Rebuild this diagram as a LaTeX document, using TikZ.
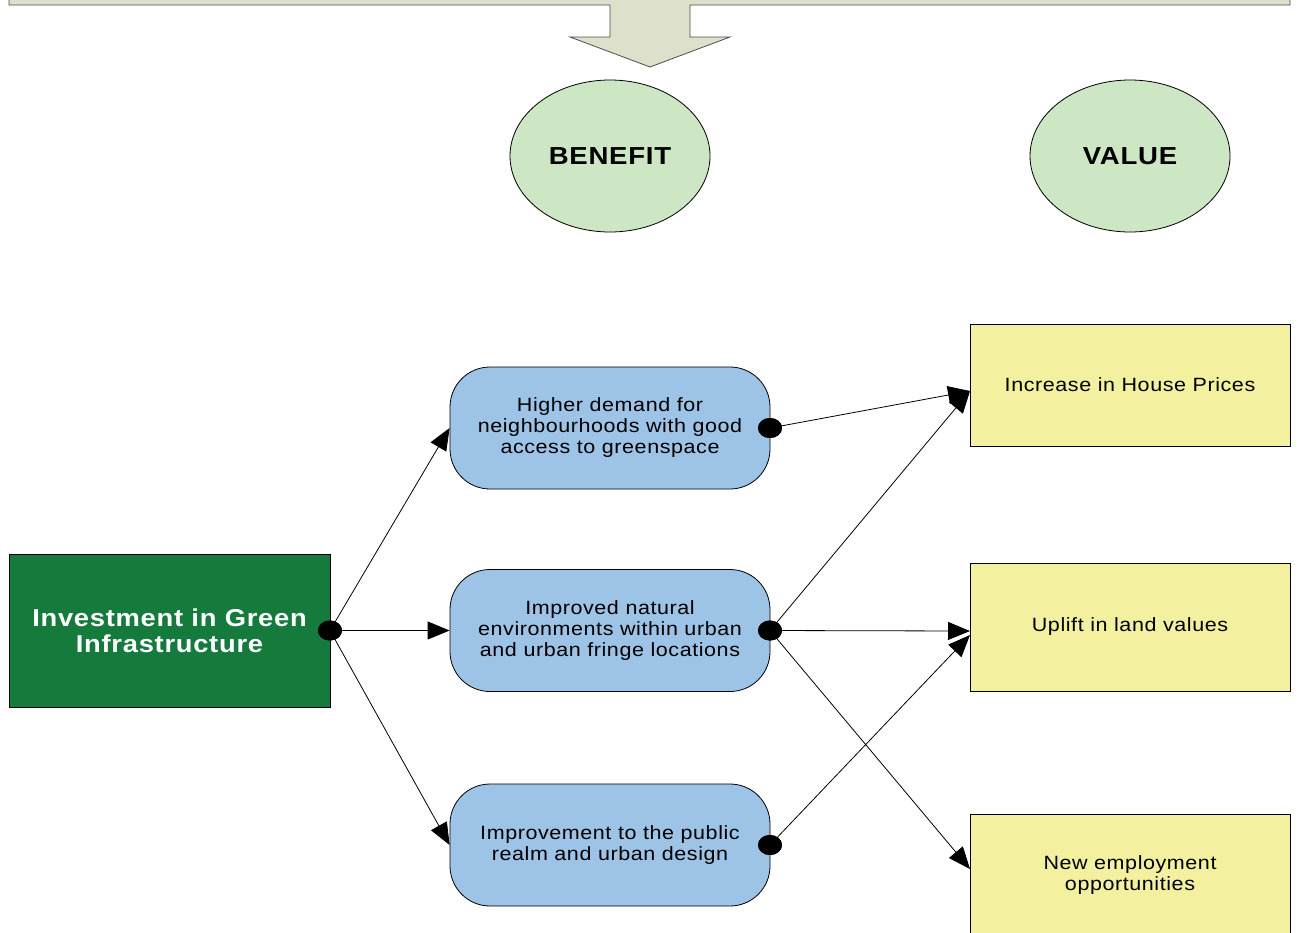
\documentclass[tikz,border=0pt]{standalone}
\usepackage{fontspec}
\setmainfont{Liberation Sans}
\newfontfamily\spaced[FakeStretch=1.12,LetterSpace=3]{Liberation Sans}
\usetikzlibrary{arrows.meta,shapes.geometric}
\definecolor{bannerfill}{HTML}{DDE1CC}
\definecolor{ovalfill}{HTML}{CDE6C4}
\definecolor{greenbox}{HTML}{147B3D}
\definecolor{bluebox}{HTML}{9DC3E6}
\definecolor{yellowbox}{HTML}{F3F1A0}
\tikzset{
  oval/.style={ellipse, draw=black, fill=ovalfill, minimum width=100pt, minimum height=76pt,
    font=\fontsize{12.3}{14}\selectfont\bfseries\spaced},
  sourcebox/.style={rectangle, draw=black, fill=greenbox, minimum width=160.5pt, minimum height=76.5pt,
    text=white, align=center, font=\fontsize{12.2}{13}\selectfont\bfseries\spaced},
  benefitbox/.style={rectangle, rounded corners=20pt, draw=black, fill=bluebox, minimum width=160pt,
    minimum height=61pt, align=center, font=\fontsize{9.6}{10.5}\selectfont\spaced},
  valuebox/.style={rectangle, draw=black, fill=yellowbox, minimum width=160pt,
    align=center, font=\fontsize{9.6}{10.5}\selectfont\spaced},
  joint/.style={ellipse, fill=black, minimum width=12pt, minimum height=10pt, inner sep=0pt},
  link/.style={draw=black, line width=0.4pt, -{Triangle[length=11pt,width=9pt]}},
}
\begin{document}
\begin{tikzpicture}[x=0.5pt,y=-0.5pt]
\useasboundingbox (0,0) rectangle (1299,932);
\clip (0,0) rectangle (1299,932);

% banner with downward arrow
\draw[fill=bannerfill, draw=black!70] (9,-20) -- (1290,-20) -- (1290,5) -- (690,5) -- (690,37)
  -- (730,37) -- (650,67) -- (570,37) -- (610,37) -- (610,5) -- (9,5) -- cycle;

% column headings
\node[oval] (benefit) at (610,156) {BENEFIT};
\node[oval] (value) at (1130,156) {VALUE};

% source
\node[sourcebox] (gi) at (169.5,630.5) {Investment in Green\\Infrastructure};

% benefits
\node[benefitbox] (b1) at (610,428) {Higher demand for\\neighbourhoods with good\\access to greenspace};
\node[benefitbox] (b2) at (610,630.5) {Improved natural\\environments within urban\\and urban fringe locations};
\node[benefitbox] (b3) at (610,845) {Improvement to the public\\realm and urban design};

% values
\node[valuebox, minimum height=61pt] (v1) at (1130,385) {Increase in House Prices};
\node[valuebox, minimum height=64pt] (v2) at (1130,627) {Uplift in land values};
\node[valuebox, minimum height=61pt] (v3) at (1130,875) {New employment\\opportunities};

% connection points
\node[joint] (j0) at (330,630.5) {};
\node[joint] (j1) at (770,428) {};
\node[joint] (j2) at (770,630.5) {};
\node[joint] (j3) at (770,845) {};

\coordinate (t1) at (970,391);
\coordinate (t2) at (970,631);
\coordinate (t3) at (970,635);
\coordinate (t4) at (970,869);

% links from investment to benefits
\draw[link] (j0.center) -- (b1.west);
\draw[link] (j0.center) -- (b2.west);
\draw[link] (j0.center) -- (b3.west);

% links from benefits to values
\draw[link] (j1.center) -- (t1);
\draw[link] (j2.center) -- (t1);
\draw[link] (j2.center) -- (t2);
\draw[link] (j2.center) -- (t4);
\draw[link] (j3.center) -- (t3);

% redraw joints above the lines
\fill (j0) ellipse (6pt and 5pt);
\fill (j1) ellipse (6pt and 5pt);
\fill (j2) ellipse (6pt and 5pt);
\fill (j3) ellipse (6pt and 5pt);
\end{tikzpicture}
\end{document}
